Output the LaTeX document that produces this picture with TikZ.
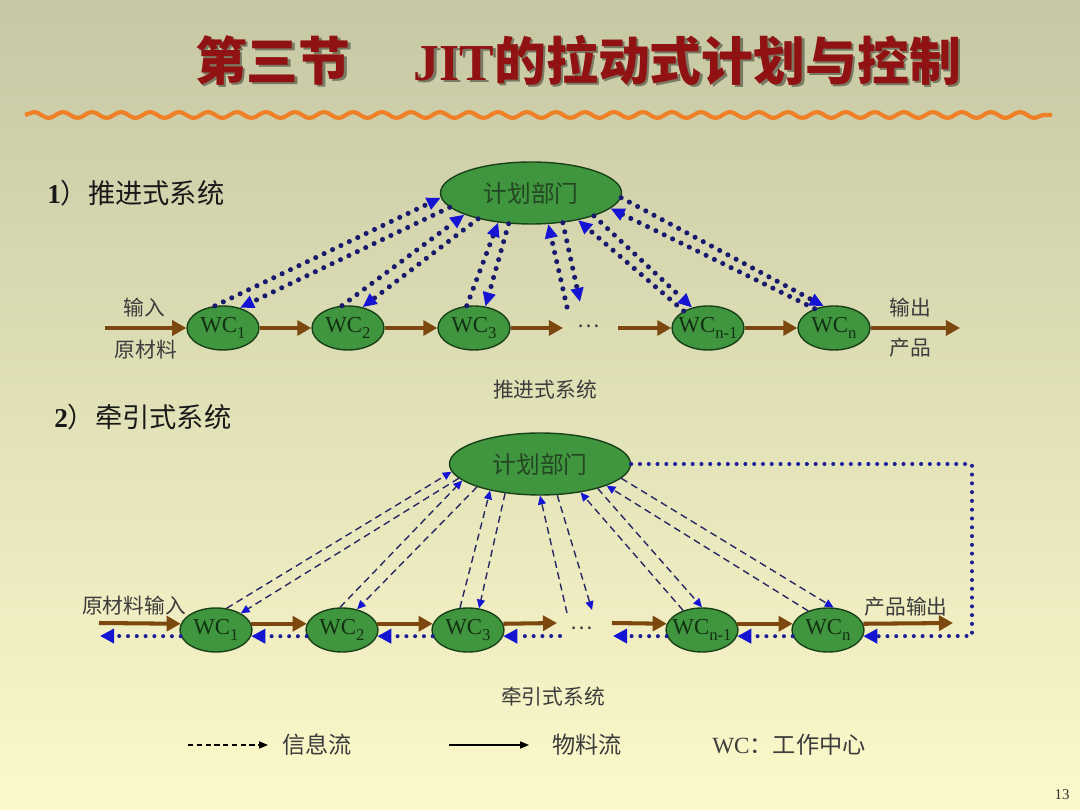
\documentclass[tikz,border=0pt]{standalone}
\usepackage{fontspec}
\setmainfont{Liberation Serif}
\newfontfamily\cjk{Noto Sans CJK SC}
\usetikzlibrary{arrows.meta,shapes.geometric,decorations.pathmorphing}
\definecolor{bgtop}{RGB}{198,200,164}
\definecolor{bgbot}{RGB}{252,249,202}
\definecolor{wcgreen}{RGB}{64,150,62}
\definecolor{wcline}{RGB}{25,65,25}
\definecolor{wctext}{RGB}{18,48,18}
\definecolor{plantext}{RGB}{35,70,35}
\definecolor{brownflow}{RGB}{125,72,15}
\definecolor{dotnavy}{RGB}{25,25,110}
\definecolor{dotblue}{RGB}{30,30,150}
\definecolor{dashnavy}{RGB}{40,40,100}
\definecolor{tipblue}{RGB}{20,20,210}
\definecolor{titlered}{RGB}{145,18,18}
\definecolor{labelgray}{RGB}{60,60,60}
\definecolor{wave}{RGB}{240,128,40}
\newcommand{\wcsub}[1]{\makebox[0pt]{WC\raisebox{-0.55ex}{\fontsize{9.5pt}{10pt}\selectfont #1}}}
\tikzset{
  wc/.style={ellipse, draw=wcline, fill=wcgreen, line width=0.8pt, minimum width=1.44cm, minimum height=0.88cm, inner sep=0pt, font=\fontsize{13pt}{14pt}\selectfont, text=wctext},
  plannode/.style={ellipse, draw=wcline, fill=wcgreen, line width=0.8pt, minimum width=3.62cm, minimum height=1.24cm, inner sep=0pt, font=\cjk\fontsize{13.5pt}{15pt}\selectfont, text=plantext},
  matflow/.style={draw=brownflow, line width=2.3pt, -{Triangle[length=8pt,width=8.5pt]}},
  pushinfo/.style={draw=dotnavy, line width=2.9pt, line cap=round, dash pattern=on 0pt off 5.3pt, -{Triangle[length=8pt,width=7pt,color=tipblue]}},
  pullinfo/.style={draw=dashnavy, line width=0.8pt, dash pattern=on 4pt off 2.6pt, -{Triangle[length=5pt,width=4.5pt,color=tipblue]}},
  pullback/.style={draw=dotblue, line width=2.3pt, line cap=round, dash pattern=on 0pt off 5pt, -{Triangle[length=8pt,width=8pt,color=tipblue]}},
  lbl/.style={font=\cjk\fontsize{11.8pt}{14pt}\selectfont, text=labelgray, inner sep=0pt},
  heading/.style={font=\fontsize{15.5pt}{18pt}\selectfont, text=black!90, inner sep=0pt, anchor=west},
  legendtxt/.style={font=\cjk\fontsize{13.2pt}{15pt}\selectfont, text=labelgray, inner sep=0pt},
  legendarrow/.style={draw=black, line width=0.7pt, -{Triangle[length=5pt,width=4pt]}},
  titletxt/.style={font=\fontsize{29.5pt}{32pt}\selectfont, inner sep=0pt}
}
\begin{document}
\begin{tikzpicture}[x=0.02cm,y=-0.02cm]
\useasboundingbox (0,0) rectangle (1080,810);
\shade[top color=bgtop, bottom color=bgbot] (0,0) rectangle (1080,810);
% title
\node[titletxt, text=black, opacity=0.4] at (580.5,62.5) {{\cjk\bfseries 第三节}\hspace{36pt}{\bfseries JIT}{\cjk\bfseries 的拉动式计划与控制}};
\node[titletxt, text=titlered] (title) at (578,60) {{\cjk\bfseries 第三节}\hspace{36pt}{\bfseries JIT}{\cjk\bfseries 的拉动式计划与控制}};
\draw[wave, line width=2.4pt, decorate, decoration={snake, segment length=0.58cm, amplitude=0.06cm}] (25,115) -- (1052,115);
% ---------- push system ----------
\node[heading] (h1) at (47,193) {{\bfseries 1}{\cjk ）推进式系统}};
\node[plannode] (p1) at (531,193) {计划部门};
\node[wc] (a1) at (223,328) {\wcsub{1}};
\node[wc] (a2) at (348,328) {\wcsub{2}};
\node[wc] (a3) at (474,328) {\wcsub{3}};
\node[wc] (am) at (708,328) {\wcsub{n-1}};
\node[wc] (an) at (834,328) {\wcsub{n}};
\node[font=\cjk\fontsize{12pt}{14pt}\selectfont, text=labelgray] (dots1) at (589,326) {…};
\coordinate (inA) at (105,328);
\coordinate (outA) at (960,328);
\coordinate (eA1) at (563,328);
\coordinate (eA2) at (618,328);
\coordinate (uA) at (567,307);
\coordinate (vA) at (580,302);
\draw[matflow] (inA) -- (a1.west);
\draw[matflow] (a1.east) -- (a2.west);
\draw[matflow] (a2.east) -- (a3.west);
\draw[matflow] (a3.east) -- (eA1);
\draw[matflow] (eA2) -- (am.west);
\draw[matflow] (am.east) -- (an.west);
\draw[matflow] (an.east) -- (outA);
\draw[pushinfo] (a1.110) -- (p1.183);
\draw[pushinfo] (p1.190) -- (a1.50);
\draw[pushinfo] (a2.105) -- (p1.198);
\draw[pushinfo] (p1.206) -- (a2.55);
\draw[pushinfo] (a3.108) -- (p1.222);
\draw[pushinfo] (p1.234) -- (a3.62);
\draw[pushinfo] (uA) -- (p1.299);
\draw[pushinfo] (p1.317) -- (vA);
\draw[pushinfo] (am.145) -- (p1.330);
\draw[pushinfo] (p1.340) -- (am.128);
\draw[pushinfo] (an.135) -- (p1.349);
\draw[pushinfo] (p1.357) -- (an.115);
\node[lbl] (l1) at (144,308) {输入};
\node[lbl] (l2) at (146,350) {原材料};
\node[lbl] (l3) at (910,308) {输出};
\node[lbl] (l4) at (910,348) {产品};
\node[lbl] (c1) at (545,390) {推进式系统};
% ---------- pull system ----------
\node[heading] (h2) at (54,417) {{\bfseries 2}{\cjk ）牵引式系统}};
\node[plannode] (p2) at (540,464) {计划部门};
\node[wc] (b1) at (216,630) {\wcsub{1}};
\node[wc] (b2) at (342,630) {\wcsub{2}};
\node[wc] (b3) at (468,630) {\wcsub{3}};
\node[wc] (bm) at (702,630) {\wcsub{n-1}};
\node[wc] (bn) at (828,630) {\wcsub{n}};
\node[font=\cjk\fontsize{12pt}{14pt}\selectfont, text=labelgray] (dots2) at (582,628) {…};
\coordinate (inB) at (99,623);
\coordinate (outB) at (953,623);
\coordinate (eB1) at (557,623);
\coordinate (eB2) at (612,623);
\coordinate (backL) at (100,636);
\coordinate (dB1) at (560,636);
\coordinate (dB2) at (613,636);
\coordinate (cR1) at (972,464);
\coordinate (cR2) at (972,636);
\coordinate (uB) at (567,613);
\coordinate (vB) at (592,610);
\draw[matflow] (inB) -- (b1.170);
\draw[matflow] (b1.10) -- (b2.170);
\draw[matflow] (b2.10) -- (b3.170);
\draw[matflow] (b3.10) -- (eB1);
\draw[matflow] (eB2) -- (bm.170);
\draw[matflow] (bm.10) -- (bn.170);
\draw[matflow] (bn.10) -- (outB);
\draw[pullback] (b1.190) -- (backL);
\draw[pullback] (b2.190) -- (b1.-10);
\draw[pullback] (b3.190) -- (b2.-10);
\draw[pullback] (dB1) -- (b3.-10);
\draw[pullback] (bm.190) -- (dB2);
\draw[pullback] (bn.190) -- (bm.-10);
\draw[pullback] (p2.east) -- (cR1) -- (cR2) -- (bn.-10);
\draw[pullinfo] (b1.64) -- (p2.185);
\draw[pullinfo] (p2.190) -- (b1.34);
\draw[pullinfo] (b2.95) -- (p2.192);
\draw[pullinfo] (p2.200) -- (b2.54);
\draw[pullinfo] (b3.110) -- (p2.208);
\draw[pullinfo] (p2.220) -- (b3.63);
\draw[pullinfo] (uB) -- (p2.270);
\draw[pullinfo] (p2.299) -- (vB);
\draw[pullinfo] (bm.134) -- (p2.325);
\draw[pullinfo] (p2.337) -- (bm.90);
\draw[pullinfo] (bn.136) -- (p2.342);
\draw[pullinfo] (p2.350) -- (bn.76);
\node[lbl] (l5) at (134,606) {原材料输入};
\node[lbl] (l6) at (906,607) {产品输出};
\node[lbl] (c2) at (553,697) {牵引式系统};
% ---------- legend ----------
\coordinate (lg1) at (188,745);
\coordinate (lg2) at (268,745);
\coordinate (lg3) at (449,745);
\coordinate (lg4) at (529,745);
\draw[legendarrow, dash pattern=on 3pt off 2pt] (lg1) -- (lg2);
\draw[legendarrow] (lg3) -- (lg4);
\node[legendtxt] (t1) at (317,745) {信息流};
\node[legendtxt] (t2) at (587,745) {物料流};
\node[legendtxt, font=\fontsize{13.2pt}{15pt}\selectfont] (t3) at (789,745) {WC{\cjk ：工作中心}};
\node[font=\fontsize{8.5pt}{10pt}\selectfont, text=black!80] (pg) at (1062,795) {13};
\end{tikzpicture}
\end{document}
